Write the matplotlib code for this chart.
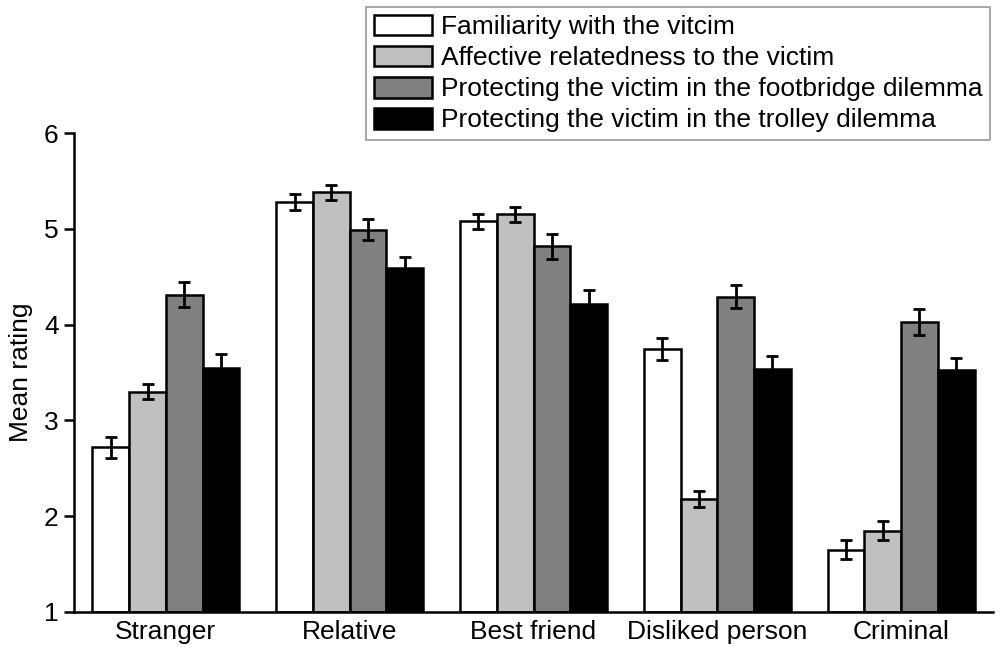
import numpy as np
import matplotlib
matplotlib.use("Agg")
import matplotlib.pyplot as plt

plt.rcParams["font.family"] = ["Liberation Sans", "DejaVu Sans"]

# ── Data ─────────────────────────────────────────────────────────────────────
targets = ["Stranger", "Relative", "Best friend", "Disliked person", "Criminal"]
series_labels = [
    "Familiarity with the vitcim",
    "Affective relatedness to the victim",
    "Protecting the victim in the footbridge dilemma",
    "Protecting the victim in the trolley dilemma",
]
familiarity = [2.72, 5.28, 5.08, 3.75, 1.65]
affective   = [3.30, 5.38, 5.15, 2.18, 1.85]
footbridge  = [4.31, 4.99, 4.82, 4.29, 4.03]
trolley     = [3.55, 4.59, 4.22, 3.54, 3.53]

familiarity_err = [0.11, 0.08, 0.08, 0.115, 0.10]
affective_err   = [0.08, 0.08, 0.08, 0.085, 0.095]
footbridge_err  = [0.13, 0.11, 0.13, 0.12, 0.135]
trolley_err     = [0.14, 0.12, 0.14, 0.13, 0.12]

values = [familiarity, affective, footbridge, trolley]
errors = [familiarity_err, affective_err, footbridge_err, trolley_err]
colors = ["#ffffff", "#c0c0c0", "#808080", "#000000"]

# ── Figure ───────────────────────────────────────────────────────────────────
fig = plt.figure(figsize=(10, 6.57), dpi=100)
ax = fig.add_axes([0.074, 0.0685, 0.919, 0.729])

x = np.arange(len(targets))
width = 0.2
for i, (vals, errs, col, lab) in enumerate(zip(values, errors, colors, series_labels)):
    pos = x + (i - 1.5) * width
    ax.bar(pos, np.array(vals) - 1, width, bottom=1, color=col,
           edgecolor="black", linewidth=1.8, label=lab, zorder=2)
    ax.errorbar(pos, vals, yerr=errs, fmt="none", ecolor="black",
                elinewidth=2.0, capsize=4.5, capthick=2.0, zorder=3)

ax.set_xlim(-0.5, 4.5)
ax.set_ylim(1, 6)
ax.set_yticks([1, 2, 3, 4, 5, 6])
ax.set_xticks(x)
ax.set_xticklabels(targets)
ax.tick_params(axis="x", length=0, labelsize=19, pad=6)
ax.tick_params(axis="y", length=7, width=1.8, labelsize=19, direction="out", pad=4)
ax.set_ylabel("Mean rating", fontsize=19, labelpad=8)

for side in ["top", "right"]:
    ax.spines[side].set_visible(False)
for side in ["left", "bottom"]:
    ax.spines[side].set_linewidth(1.8)

leg = fig.legend(loc="upper right", bbox_to_anchor=(0.990, 0.989),
                 fontsize=19, frameon=True, fancybox=False,
                 handlelength=2.2, handleheight=0.83, handletextpad=0.35,
                 labelspacing=0.25, borderpad=0.28, borderaxespad=0)
leg.get_frame().set_edgecolor("#808080")
leg.get_frame().set_linewidth(1.2)

fig.savefig("out.png", dpi=100, facecolor="white")
plt.close()
